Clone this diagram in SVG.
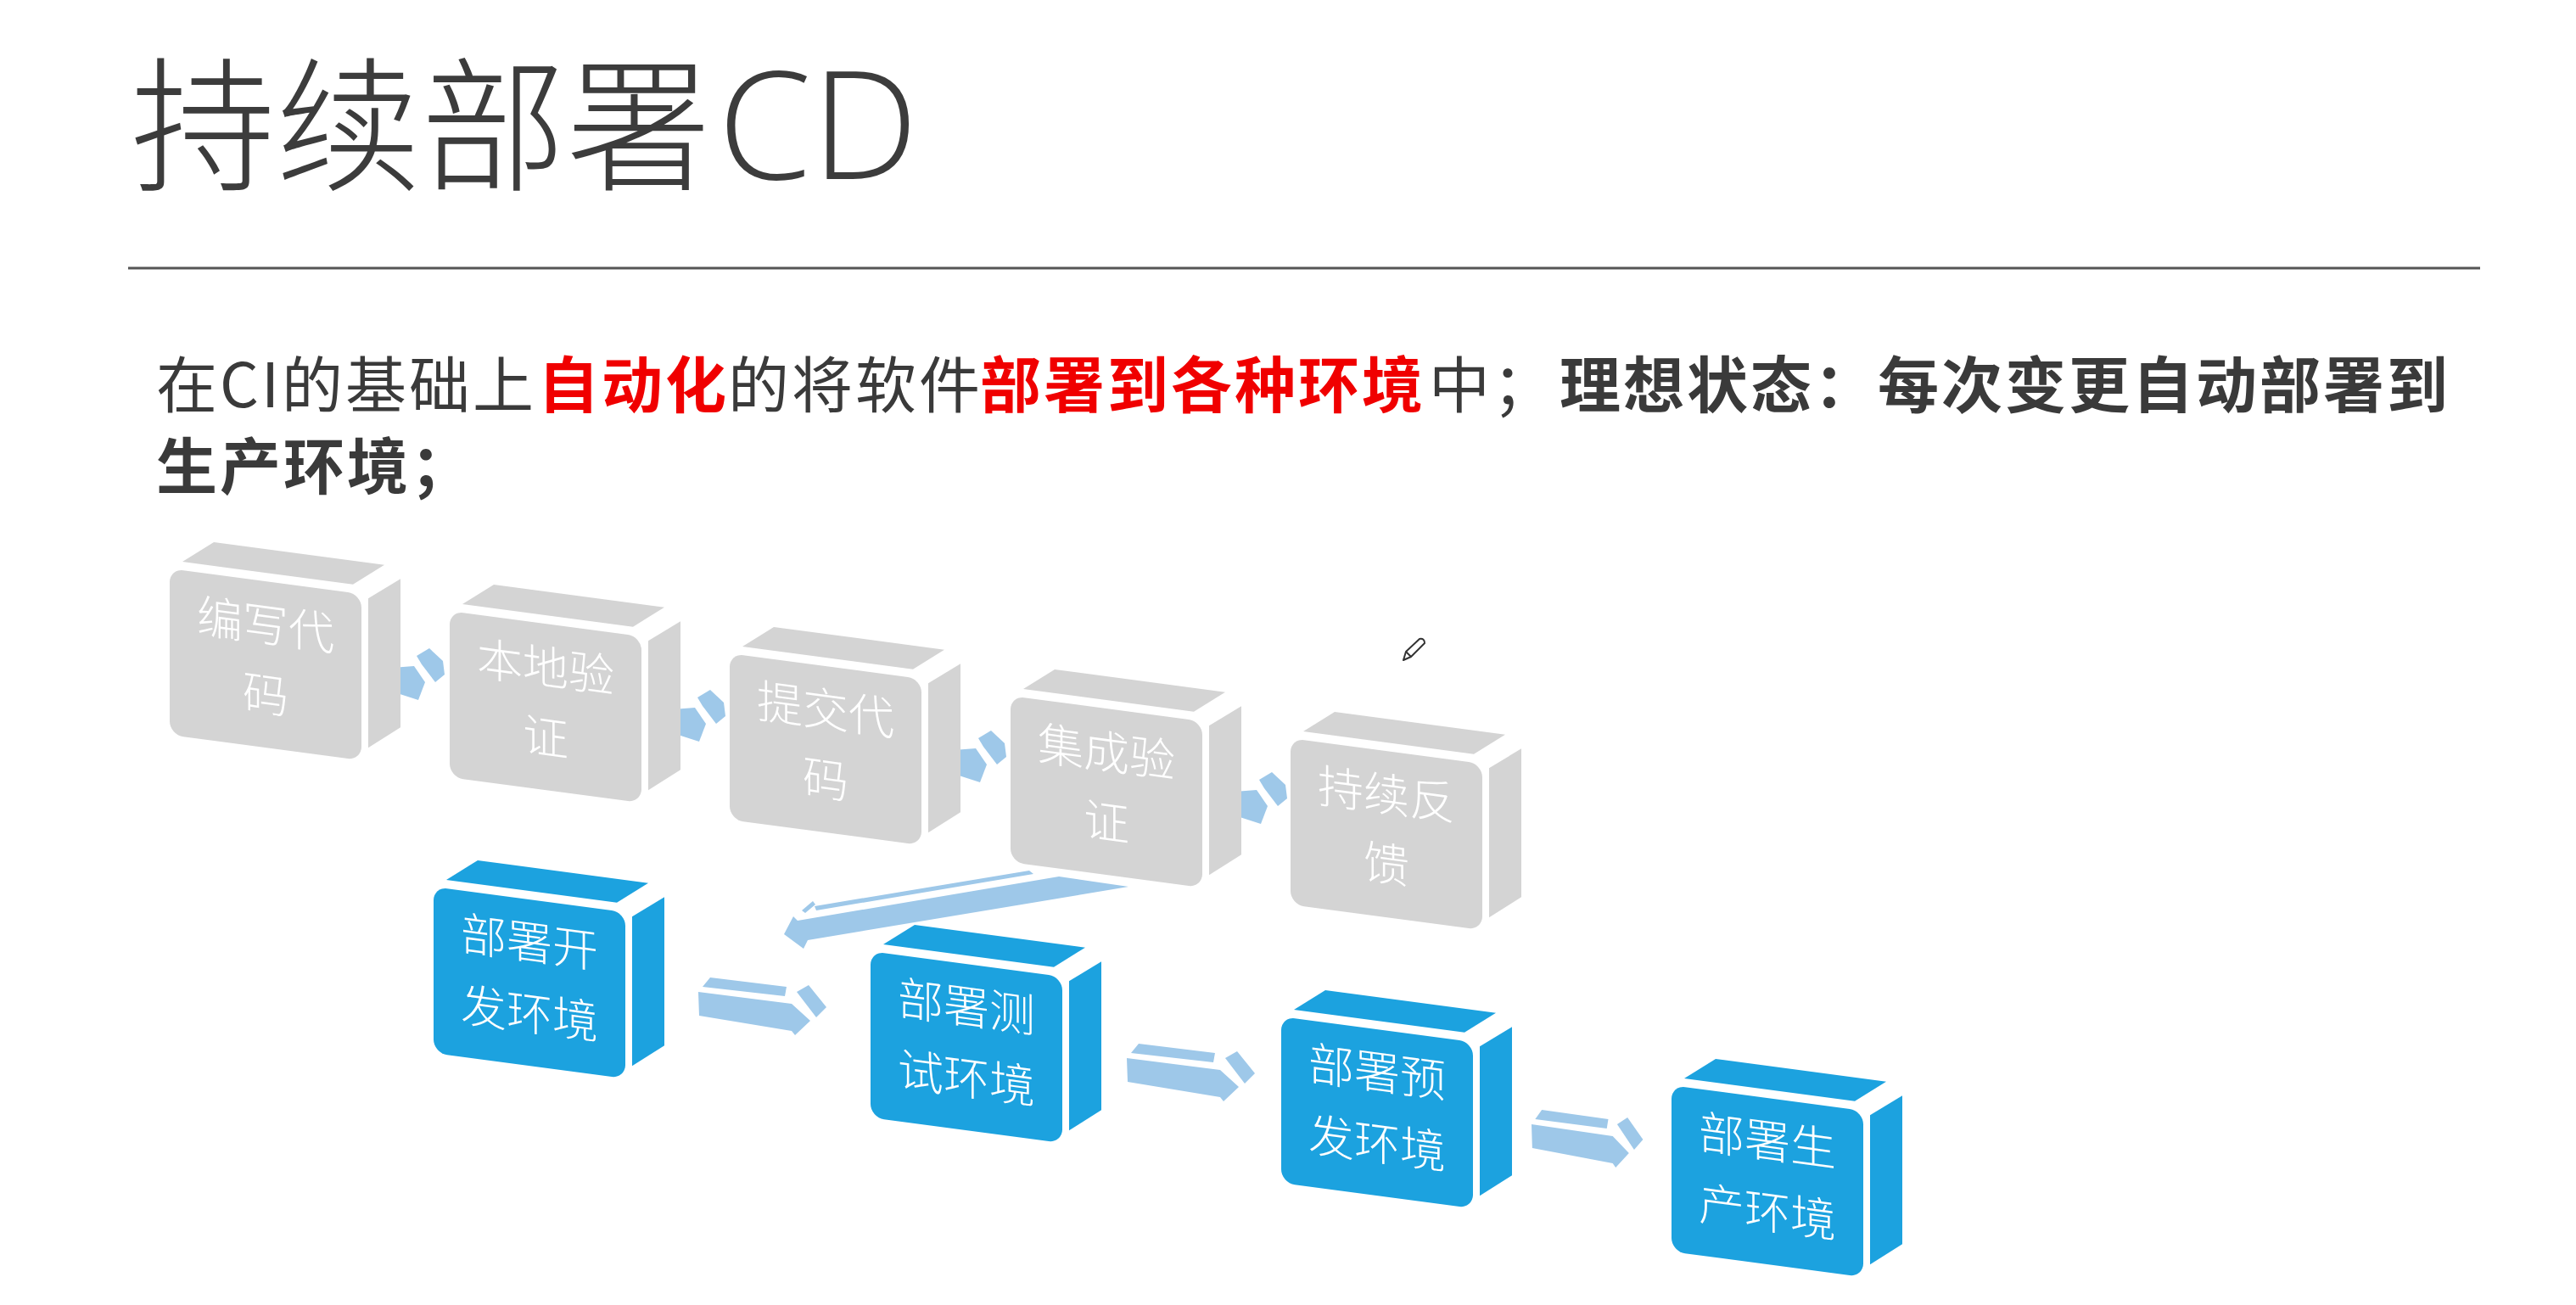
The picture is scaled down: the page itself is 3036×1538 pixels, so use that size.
<svg xmlns="http://www.w3.org/2000/svg" xmlns:xlink="http://www.w3.org/1999/xlink" width="3036" height="1538" viewBox="0 0 3036 1538">
<style>
.cjk{font-family:"Noto Sans CJK SC","Noto Sans",sans-serif}
.title{font-size:171px;fill:#3c3c3c;font-weight:300}
.cd{font-family:"Open Sans","Liberation Sans",sans-serif;font-weight:300;font-size:178px}
.body{font-size:72px;fill:#3a3a3a;letter-spacing:3px}
.red{fill:#f00000;font-weight:700}
.bold{font-weight:700}
.lbl{font-size:54px;fill:#ffffff;text-anchor:middle;font-weight:300}
.gray{fill:#d4d4d4}
.blue{fill:#1ca2df}
.arr{fill:#9ec8e9;stroke:#ffffff;stroke-width:3;stroke-linejoin:round;paint-order:stroke}
</style>
<defs>
<g id="cube">
<polygon points="15,-10 52,-38 253,-38 216,-10"/>
<rect x="0" y="0" width="226" height="196" rx="16"/>
<polygon points="234,4 272,-24 272,151 234,180"/>
</g>
<g id="sArrow">
<polygon points="-2,21 24,19 37,38 29,59 -2,49"/>
<polygon points="27,7 42,-2 58,13 60,29 49,38 33,17"/>
</g>
<g id="bArrow">
<polygon points="14,0 104,11 102,22 5,11"/>
<polygon points="0,17 110,31 132,51 114,68 110,63 1,45"/>
<polygon points="116,17 130,9 151,35 139,47"/>
</g>
</defs>
<rect x="0" y="0" width="3036" height="1538" fill="#ffffff"/>

<g id="header">
<text class="cjk title" x="154" y="211">持续部署<tspan class="cd" x="846">CD</tspan></text>
<line x1="151" y1="316" x2="2923" y2="316" stroke="#555555" stroke-width="3"/>
<text class="cjk body" y="480"><tspan x="184">在CI的基础上</tspan><tspan x="634" class="red">自动化</tspan><tspan x="858">的将软件</tspan><tspan x="1155" class="red">部署到各种环境</tspan><tspan x="1684">中；</tspan><tspan x="1838" class="bold">理想状态：每次变更自动部署到</tspan></text>
<text class="cjk body bold" x="184" y="576">生产环境；</text>
</g>

<g id="connectors">
<use xlink:href="#sArrow" href="#sArrow" class="arr" transform="translate(464,766)"/>
<use xlink:href="#sArrow" href="#sArrow" class="arr" transform="translate(795,815)"/>
<use xlink:href="#sArrow" href="#sArrow" class="arr" transform="translate(1126,863)"/>
<use xlink:href="#sArrow" href="#sArrow" class="arr" transform="translate(1457,912)"/>
<g class="arr">
<polygon points="940,1085 1248,1033 1330,1045 952,1108 947,1118 924,1101 935,1080"/>
<polygon points="960,1068 1213,1026 1218,1030 962,1073" stroke-width="2"/>
<polygon points="945,1073 958,1062 961,1066 949,1076" stroke-width="2"/>
</g>
<use xlink:href="#bArrow" href="#bArrow" class="arr" transform="translate(823,1152)"/>
<use xlink:href="#bArrow" href="#bArrow" class="arr" transform="translate(1328,1230)"/>
<use xlink:href="#bArrow" href="#bArrow" class="arr" transform="translate(1805,1308) scale(0.87,1)"/>
</g>

<g id="n-code" transform="translate(200,670) skewY(7.6)">
<use xlink:href="#cube" href="#cube" class="gray"/>
<text class="cjk lbl"><tspan x="113" y="71">编写代</tspan><tspan x="113" y="153">码</tspan></text>
</g>
<g id="n-local" transform="translate(530,720) skewY(7.6)">
<use xlink:href="#cube" href="#cube" class="gray"/>
<text class="cjk lbl"><tspan x="113" y="71">本地验</tspan><tspan x="113" y="153">证</tspan></text>
</g>
<g id="n-commit" transform="translate(860,770) skewY(7.6)">
<use xlink:href="#cube" href="#cube" class="gray"/>
<text class="cjk lbl"><tspan x="113" y="71">提交代</tspan><tspan x="113" y="153">码</tspan></text>
</g>
<g id="n-integ" transform="translate(1191,820) skewY(7.6)">
<use xlink:href="#cube" href="#cube" class="gray"/>
<text class="cjk lbl"><tspan x="113" y="71">集成验</tspan><tspan x="113" y="153">证</tspan></text>
</g>
<g id="n-feedback" transform="translate(1521,870) skewY(7.6)">
<use xlink:href="#cube" href="#cube" class="gray"/>
<text class="cjk lbl"><tspan x="113" y="71">持续反</tspan><tspan x="113" y="153">馈</tspan></text>
</g>

<g id="n-dev" transform="translate(511,1045) skewY(7.6)">
<use xlink:href="#cube" href="#cube" class="blue"/>
<text class="cjk lbl"><tspan x="113" y="70">部署开</tspan><tspan x="113" y="154">发环境</tspan></text>
</g>
<g id="n-test" transform="translate(1026,1121) skewY(7.6)">
<use xlink:href="#cube" href="#cube" class="blue"/>
<text class="cjk lbl"><tspan x="113" y="70">部署测</tspan><tspan x="113" y="154">试环境</tspan></text>
</g>
<g id="n-pre" transform="translate(1510,1198) skewY(7.6)">
<use xlink:href="#cube" href="#cube" class="blue"/>
<text class="cjk lbl"><tspan x="113" y="70">部署预</tspan><tspan x="113" y="154">发环境</tspan></text>
</g>
<g id="n-prod" transform="translate(1970,1279) skewY(7.6)">
<use xlink:href="#cube" href="#cube" class="blue"/>
<text class="cjk lbl"><tspan x="113" y="70">部署生</tspan><tspan x="113" y="154">产环境</tspan></text>
</g>

<g id="pencil" fill="none" stroke="#333333" stroke-width="2" stroke-linejoin="round">
<path d="M1654,778 L1657,768 L1673,753 Q1679,752 1679,758 L1663,774 Z"/>
<path d="M1657,768 L1663,774"/>
</g>
</svg>
